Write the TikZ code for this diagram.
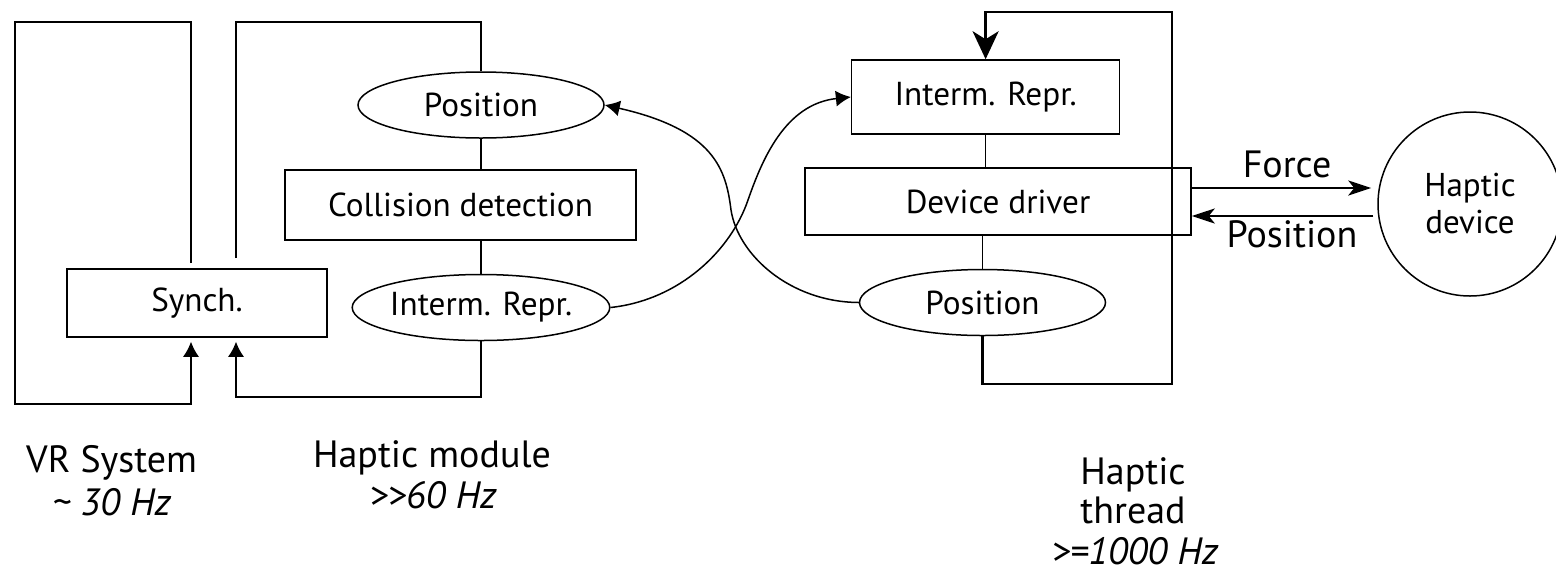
\documentclass[tikz,border=0pt]{standalone}
\usepackage{fontspec}
\setmainfont{PT Sans}
\usetikzlibrary{shapes.geometric, arrows.meta}
\begin{document}
\begin{tikzpicture}[x=0.5pt, y=-0.5pt,
  ln/.style={line width=0.75pt},
  thk/.style={line width=1.3pt},
  box/.style={draw, ln, rectangle, inner sep=0pt, font=\fontsize{16.6}{19}\selectfont},
  oval/.style={draw, ln, ellipse, inner sep=0pt, minimum width=123pt, minimum height=33pt, font=\fontsize{16.6}{19}\selectfont},
  lbl/.style={inner sep=0pt, font=\fontsize{19}{22}\selectfont},
  tipL/.style={-{Latex[length=7.5pt, width=8pt]}},
  tipS/.style={-{Stealth[length=14pt, width=13pt, inset=4pt]}},
  tipF/.style={-{Stealth[length=11.5pt, width=7.5pt, inset=3pt]}}]
\useasboundingbox (0,0) rectangle (1556,574);
\clip (0,0) rectangle (1556,574);

% nodes
\node[box, minimum width=130pt, minimum height=34pt] (synch) at (197,303) {Synch.};
\node[oval] (pos1) at (481,105) {Position};
\node[box, minimum width=175.5pt, minimum height=35pt] (coll) at (460.5,205) {Collision detection};
\node[oval] (ir1) at (481,307.5) {Interm. Repr.};
\node[box, minimum width=134pt, minimum height=37pt] (ir2) at (985.6,97) {Interm. Repr.};
\node[box, minimum width=193pt, minimum height=33.5pt] (dd) at (998,201.5) {Device driver};
\node[oval] (pos2) at (982.5,302.5) {Position};
\node[draw, ln, circle, inner sep=0pt, minimum size=92pt, align=center,
      font=\fontsize{16.5}{18.5}\selectfont] (hd) at (1470,204) {Haptic\\device};

% coordinates
\coordinate (a1) at (191,263);
\coordinate (a2) at (191,22);
\coordinate (a3) at (15,22);
\coordinate (a4) at (15,404);
\coordinate (a5) at (191,404);
\coordinate (b1) at (236,258);
\coordinate (b2) at (236,22);
\coordinate (b3) at (481,22);
\coordinate (c1) at (481,397);
\coordinate (c2) at (236,397);
\coordinate (t1) at (982.5,384);
\coordinate (t2) at (1172,384);
\coordinate (t3) at (1172,12);
\coordinate (t4) at (985.6,12);
\coordinate (mA) at (731,210);
\coordinate (mB) at (748,200);

% VR system frame
\draw[ln, tipL, shorten >=2pt] (a1) -- (a2) -- (a3) -- (a4) -- (a5) -- (synch.south -| a5);
% haptic module frame
\draw[ln] (b1) -- (b2) -- (b3) -- (pos1.north);
\draw[ln] (pos1.south) -- (pos1.south |- coll.north);
\draw[ln] (coll.south -| ir1.north) -- (ir1.north);
\draw[ln, tipL, shorten >=2pt] (ir1.south) -- (c1) -- (c2) -- (synch.south -| c2);

% haptic thread
\draw[ln] (ir2.south) -- (ir2.south |- dd.north);
\draw[ln] (dd.south -| pos2.north) -- (pos2.north);
\draw[thk, tipS] (pos2.south) -- (t1) -- (t2) -- (t3) -- (t4) -- (ir2.north);

% curves
\draw[ln, tipL] (pos2.west) .. controls (790,302) and (738,255) .. (mA)
                 .. controls (726,170) and (715,130) .. (pos1.east);
\draw[ln, tipL] (ir1.east) .. controls (680,300) and (731,250) .. (mB)
                 .. controls (762,160) and (785,104) .. (ir2.west);

% device arrows
\draw[thk, tipF, shorten >=3pt] ([yshift=6.75pt]dd.east) -- ([yshift=6.75pt]dd.east -| hd.west);
\draw[thk, tipF, shorten <=2pt] ([yshift=-7.25pt]dd.east -| hd.west) -- ([yshift=-7.25pt]dd.east);
\node[lbl, anchor=base] (force) at (1287,177) {Force};
\node[lbl, anchor=base] (posl) at (1292,247) {Position};

% bottom labels
\node[lbl, anchor=base] (vr) at (111.6,472) {VR System};
\node[lbl, anchor=base] (vrhz) at (111.6,515) {\itshape\textasciitilde\ 30 Hz};
\node[lbl, anchor=base] (hm) at (432,467) {Haptic module};
\node[lbl, anchor=base] (hmhz) at (433,508) {\itshape >{}>60 Hz};
\node[lbl, anchor=base] (ht1) at (1133,484) {Haptic};
\node[lbl, anchor=base] (ht2) at (1133,523) {thread};
\node[lbl, anchor=base] (ht3) at (1135,564) {\itshape >=1000 Hz};
\end{tikzpicture}
\end{document}
